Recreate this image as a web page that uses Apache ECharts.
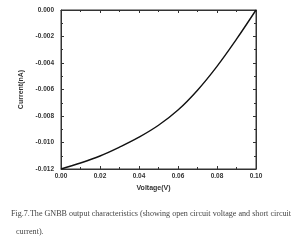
<!DOCTYPE html>
<html><head><meta charset="utf-8">
<script src="https://cdn.jsdelivr.net/npm/echarts@6/dist/echarts.min.js"></script>
<style>html,body{margin:0;padding:0;background:#fff}#c{width:300px;height:247px}</style>
</head><body><div id="c"></div>
<script>
var voltage = [0, 0.01, 0.02, 0.03, 0.04, 0.05, 0.06, 0.07, 0.08, 0.09, 0.1];
var current = [-0.0120, -0.01155, -0.01102, -0.01035, -0.00960, -0.00870, -0.00755, -0.00605, -0.00425, -0.00220, 0.0];
var xTicks = [0, 0.1, 0.02];
var yTicks = [-0.012, 0, 0.002];
var caption1 = 'Fig.7.The GNBB output characteristics (showing open circuit voltage and short circuit';
var caption2 = 'current).';

var data = voltage.map(function (v, i) { return [v, current[i]]; });
var lab = {fontFamily: 'Liberation Sans', fontWeight: 'bold', fontSize: 6.5, color: '#333'};
function axLine() { return {show: true, onZero: false, lineStyle: {color: '#333', width: 1}}; }
function tick() { return {show: true, inside: true, length: 3, lineStyle: {color: '#333'}}; }
function minor() { return {show: true, splitNumber: 2, length: 2, lineStyle: {color: '#333'}}; }
var chart = echarts.init(document.getElementById('c'), null, {renderer: 'canvas'});
chart.setOption({
  animation: false,
  backgroundColor: '#fff',
  grid: {left: 61, right: 44, top: 10, bottom: 78, show: true, borderColor: '#333', borderWidth: 1, backgroundColor: 'transparent'},
  xAxis: [{
    type: 'value', position: 'bottom', min: xTicks[0], max: xTicks[1], interval: xTicks[2],
    name: 'Voltage(V)', nameLocation: 'middle', nameGap: 13,
    nameTextStyle: {fontFamily: 'Liberation Sans', fontWeight: 'bold', fontSize: 7, color: '#333', padding: [0, 10, 0, 0]},
    axisLine: axLine(), axisTick: tick(), minorTick: minor(),
    splitLine: {show: false},
    axisLabel: Object.assign({margin: 4, formatter: function (v) { return v.toFixed(2); }}, lab)
  }, {
    type: 'value', position: 'top', min: xTicks[0], max: xTicks[1], interval: xTicks[2],
    axisLine: axLine(), axisTick: tick(), minorTick: minor(),
    splitLine: {show: false}, axisLabel: {show: true, formatter: function () { return ''; }}
  }],
  yAxis: [{
    type: 'value', position: 'left', min: yTicks[0], max: yTicks[1], interval: yTicks[2],
    name: 'Current(nA)', nameLocation: 'middle', nameGap: 26,
    nameTextStyle: {fontFamily: 'Liberation Sans', fontWeight: 'bold', fontSize: 7, color: '#333'},
    axisLine: axLine(), axisTick: tick(), minorTick: minor(),
    splitLine: {show: false},
    axisLabel: Object.assign({margin: 7, formatter: function (v) { return v.toFixed(3); }}, lab)
  }, {
    type: 'value', position: 'right', min: yTicks[0], max: yTicks[1], interval: yTicks[2],
    axisLine: axLine(), axisTick: tick(), minorTick: minor(),
    splitLine: {show: false}, axisLabel: {show: true, formatter: function () { return ''; }}
  }],
  series: [{
    type: 'line', data: data, smooth: 0.4, showSymbol: false,
    lineStyle: {color: '#111', width: 1.4}
  }, {
    type: 'line', xAxisIndex: 1, yAxisIndex: 1, data: [data[0]], showSymbol: false, silent: true,
    lineStyle: {width: 0, opacity: 0}
  }],
  graphic: [
    {type: 'text', left: 11, top: 210, style: {text: caption1, font: '8.1px "Liberation Serif"', fill: '#444'}},
    {type: 'text', left: 16, top: 228, style: {text: caption2, font: '8.1px "Liberation Serif"', fill: '#444'}}
  ]
});
</script></body></html>
